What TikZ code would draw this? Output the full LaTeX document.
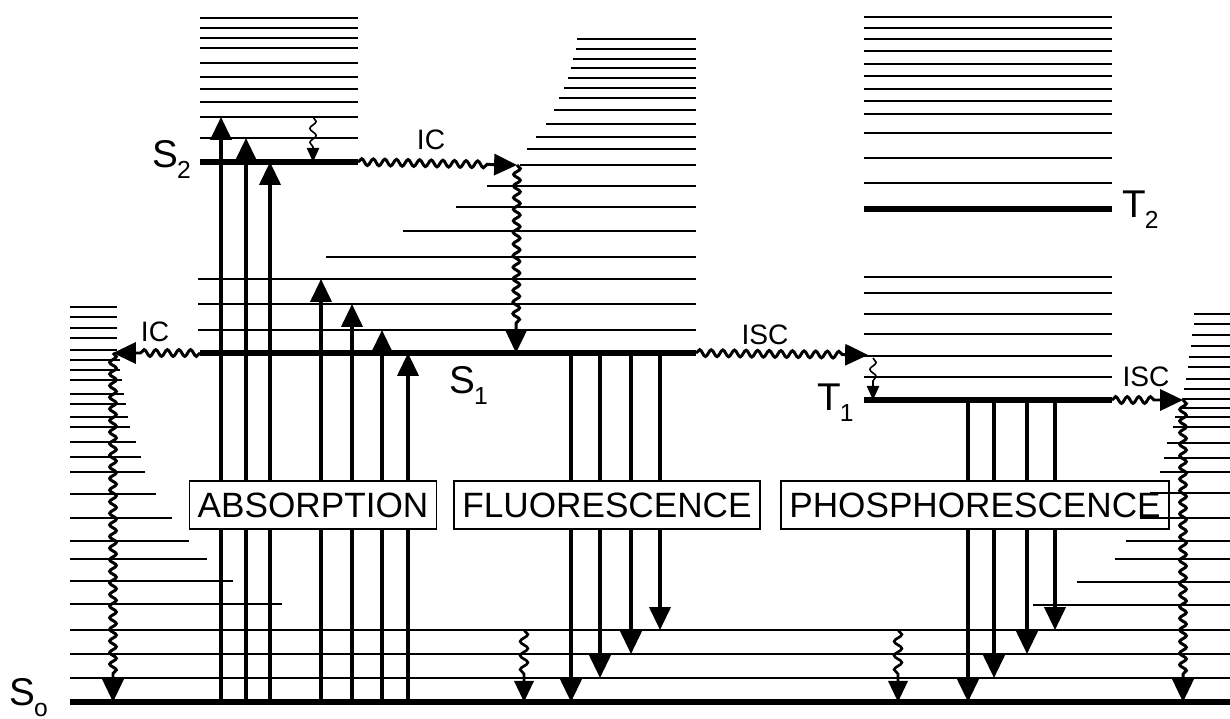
\documentclass[tikz,border=0pt]{standalone}
\usepackage{fontspec}
\setmainfont{Liberation Sans}
\usetikzlibrary{arrows.meta,decorations.pathmorphing}

\newcommand{\statename}[2]{#1\hspace{-0.4pt}\raisebox{-3.3pt}{\fontsize{7}{8}\selectfont #2}}

\tikzset{
  vib/.style={line width=0.5pt},
  elec/.style={line width=1.8pt},
  radarrow/.style={line width=0.95pt, -{Triangle[length=6.5pt,width=6pt]}},
  nonrad/.style={line width=0.85pt, decorate,
    decoration={snake, amplitude=0.95pt, segment length=3.3pt, post length=7pt},
    -{Triangle[length=6.5pt,width=6pt]}},
  relax/.style={line width=0.75pt, decorate,
    decoration={snake, amplitude=1.1pt, segment length=4pt, post length=7pt},
    -{Triangle[length=6pt,width=5.5pt]}},
  smallrelax/.style={line width=0.45pt, decorate,
    decoration={snake, amplitude=0.9pt, segment length=4pt, post length=4pt},
    -{Triangle[length=4pt,width=3.5pt]}},
  procbox/.style={draw, line width=0.4pt, fill=white, inner xsep=2.4pt,
    minimum height=0.45cm, font=\fontsize{10}{12}\selectfont},
  statelbl/.style={anchor=base west, inner sep=0pt, font=\fontsize{11}{13}\selectfont},
  proclbl/.style={inner sep=0pt, font=\fontsize{8}{10}\selectfont},
}

\begin{document}
\begin{tikzpicture}[x=0.01cm, y=-0.01cm]
\useasboundingbox (0,0) rectangle (1230,718);

% radiative transitions
\foreach \x/\y in {221/117, 246/138, 270/162, 321/279, 352/304, 382/330, 408/353}
  \draw[radarrow] (\x,702) -- (\x,\y);
\foreach \x/\y in {571/702, 600/678, 631/654, 660/630}
  \draw[radarrow] (\x,353) -- (\x,\y);
\foreach \x/\y in {968/702, 994/678, 1027/654, 1055/630}
  \draw[radarrow] (\x,400) -- (\x,\y);

\node[procbox] (absorb) at (313,505) {ABSORPTION};
\node[procbox] (fluor) at (607,505) {FLUORESCENCE};
\node[procbox] (phos) at (975,505) {PHOSPHORESCENCE};

% S0 and its vibrational levels
\draw[elec] (70,702) -- (1230,702);
\foreach \y in {630,654,678}
  \draw[vib] (70,\y) -- (1230,\y);
\foreach \y/\e in {307/117, 317/117, 328/117, 338/117, 350/117, 360/120, 370/120,
    380/122, 394/124, 404/126, 417/128, 427/130, 442/136, 457/141, 472/145,
    494/156, 518/172, 541/189, 559/207, 581/233, 604/282}
  \draw[vib] (70,\y) -- (\e,\y);
\foreach \y/\s in {314/1194, 324/1194, 335/1192, 346/1191, 357/1189, 367/1188,
    379/1186, 389/1184, 399/1182, 408/1180, 417/1175, 427/1173, 443/1167,
    458/1164, 472/1160, 493/1150, 518/1140, 541/1126, 559/1115, 582/1077, 605/1033}
  \draw[vib] (\s,\y) -- (1230,\y);

% S1
\draw[elec] (200,353) -- (696,353);
\foreach \y/\s in {330/198, 304/198, 279/198, 257/326, 231/403, 207/456, 186/487,
    165/520, 149/527, 137/536, 124/546, 110/554, 98/559, 88/564, 78/568,
    68/571, 59/573, 49/576, 39/577}
  \draw[vib] (\s,\y) -- (696,\y);

% S2
\draw[elec] (200,162) -- (358,162);
\foreach \y in {18,28,38,48,63,77,89,102,117,138}
  \draw[vib] (200,\y) -- (358,\y);

% T1 and T2
\draw[elec] (864,209) -- (1112,209);
\draw[elec] (864,400) -- (1112,400);
\foreach \y in {17,28,39,51,64,76,89,101,114,133,158,183,277,293,314,334,356,377}
  \draw[vib] (864,\y) -- (1112,\y);

% non-radiative transitions
\coordinate (s2r) at (358,162);
\coordinate (s1top) at (517,165);
\coordinate (s1in) at (516,353);
\coordinate (s1l) at (200,353);
\coordinate (icl) at (113,353);
\coordinate (ics0) at (113,702);
\coordinate (s1r) at (696,353);
\coordinate (iscm) at (868,355);
\coordinate (t1top) at (873,358);
\coordinate (t1in) at (873,400);
\coordinate (t1r) at (1112,400);
\coordinate (iscr) at (1183,400);
\coordinate (iscs0) at (1183,702);

\draw[nonrad] (s2r) -- (s1top);
\draw[nonrad] (s1top) -- (s1in);
\draw[nonrad] (s1l) -- (icl);
\draw[nonrad] (icl) -- (ics0);
\draw[nonrad] (s1r) -- (iscm);
\draw[nonrad] (t1r) -- (iscr);
\draw[nonrad] (iscr) -- (iscs0);
\draw[smallrelax] (t1top) -- (t1in);
\draw[smallrelax] (313,117) -- (313,162);
\draw[relax] (524,630) -- (524,702);
\draw[relax] (898,630) -- (898,702);

\node[proclbl] (icup) at (431,140) {IC};
\node[proclbl] (icleft) at (155,332) {IC};
\node[proclbl] (iscmid) at (765,335) {ISC};
\node[proclbl] (iscright) at (1146,377) {ISC};

\node[statelbl] (S0lab) at (9,705) {\statename{S}{o}};
\node[statelbl] (S1lab) at (449,393) {\statename{S}{1}};
\node[statelbl] (S2lab) at (152,167) {\statename{S}{2}};
\node[statelbl] (T1lab) at (817,410) {\statename{T}{1}};
\node[statelbl] (T2lab) at (1122,217) {\statename{T}{2}};
\end{tikzpicture}
\end{document}
